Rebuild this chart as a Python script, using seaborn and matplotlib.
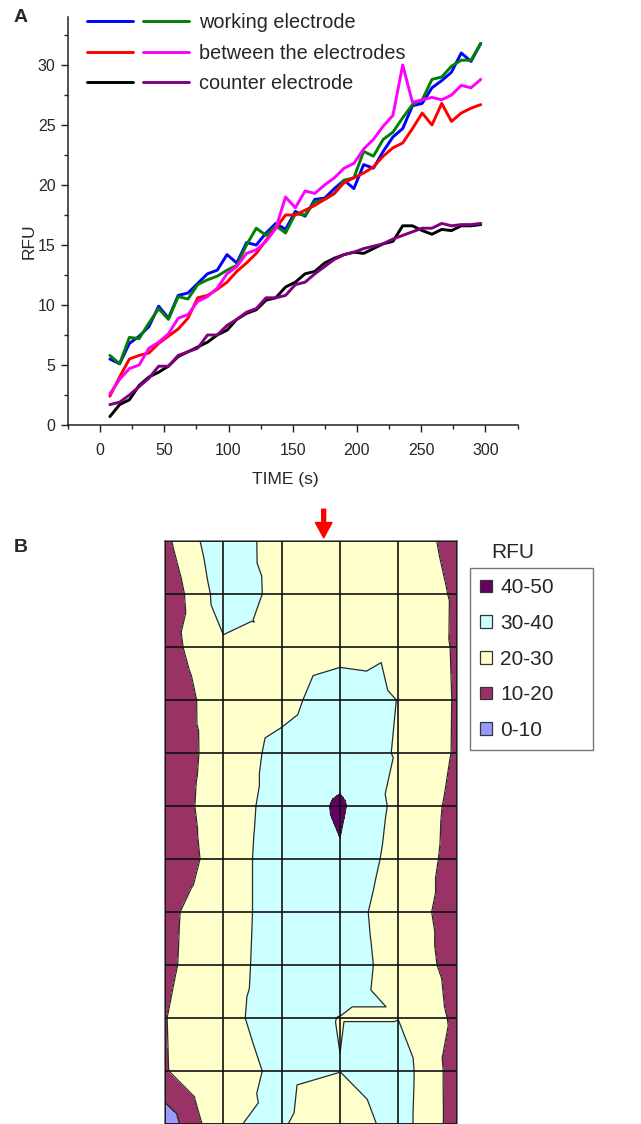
import numpy as np
import pandas as pd
import matplotlib
matplotlib.use("Agg")
import matplotlib.pyplot as plt
import matplotlib.tri as mtri
from matplotlib.legend_handler import HandlerTuple
from matplotlib.lines import Line2D
from matplotlib.patches import Patch
from matplotlib.ticker import MultipleLocator
import seaborn as sns

# ---------------- Panel A: fluorescence vs time ----------------
TIME_S = [7.6, 15.2, 22.8, 30.4, 38.0, 45.6, 53.2, 60.8, 68.4, 76.0,
          83.6, 91.2, 98.8, 106.4, 114.0, 121.6, 129.2, 136.8, 144.4, 152.0,
          159.6, 167.2, 174.8, 182.4, 190.0, 197.6, 205.2, 212.8, 220.4, 228.0,
          235.6, 243.2, 250.8, 258.4, 266.0, 273.6, 281.2, 288.8, 296.4]

WORKING_1 = [5.5, 5.1, 6.8, 7.4, 8.2, 9.9, 8.9, 10.8, 11.0, 11.8,
             12.6, 12.9, 14.2, 13.5, 15.2, 15.0, 16.0, 16.8, 16.3, 17.8,
             17.4, 18.8, 18.9, 19.7, 20.4, 19.7, 21.7, 21.4, 22.8, 24.0,
             24.7, 26.6, 26.8, 28.1, 28.7, 29.4, 31.0, 30.3, 31.8]
WORKING_2 = [5.8, 5.1, 7.3, 7.2, 8.5, 9.7, 8.8, 10.7, 10.5, 11.7,
             12.1, 12.4, 12.9, 13.3, 15.0, 16.4, 15.8, 16.6, 16.0, 17.6,
             17.5, 18.6, 18.8, 19.3, 20.4, 20.6, 22.8, 22.4, 23.8, 24.4,
             25.6, 26.7, 27.1, 28.8, 29.0, 29.9, 30.4, 30.4, 31.8]
BETWEEN_1 = [2.4, 4.0, 5.5, 5.8, 6.0, 6.8, 7.4, 8.0, 8.9, 10.6,
             10.8, 11.3, 11.9, 12.8, 13.5, 14.3, 15.4, 16.4, 17.5, 17.5,
             17.9, 18.3, 18.8, 19.3, 20.2, 20.6, 21.0, 21.5, 22.4, 23.1,
             23.5, 24.7, 26.0, 25.0, 26.8, 25.3, 26.0, 26.4, 26.7]
BETWEEN_2 = [2.6, 3.8, 4.7, 5.0, 6.4, 6.9, 7.6, 8.9, 9.2, 10.3,
             10.7, 11.4, 12.6, 13.2, 14.3, 14.6, 15.3, 16.4, 19.0, 18.1,
             19.5, 19.3, 20.0, 20.6, 21.4, 21.8, 23.0, 23.8, 24.9, 25.8,
             30.0, 26.9, 27.1, 27.3, 27.1, 27.5, 28.3, 28.1, 28.8]
COUNTER_1 = [0.7, 1.7, 2.1, 3.3, 4.0, 4.4, 4.9, 5.7, 6.1, 6.5,
             6.9, 7.5, 7.9, 8.8, 9.3, 9.6, 10.4, 10.6, 11.5, 11.9,
             12.6, 12.8, 13.5, 13.9, 14.2, 14.4, 14.3, 14.7, 15.1, 15.3,
             16.6, 16.6, 16.2, 15.9, 16.3, 16.2, 16.6, 16.6, 16.7]
COUNTER_2 = [1.7, 1.9, 2.5, 3.2, 3.9, 4.9, 4.9, 5.8, 6.1, 6.4,
             7.5, 7.5, 8.3, 8.8, 9.4, 9.7, 10.6, 10.6, 10.8, 11.7,
             11.9, 12.6, 13.2, 13.8, 14.2, 14.4, 14.7, 14.9, 15.1, 15.5,
             15.8, 16.1, 16.4, 16.4, 16.8, 16.6, 16.7, 16.7, 16.8]

SERIES = {"WE-1": WORKING_1, "WE-2": WORKING_2,
          "BE-1": BETWEEN_1, "BE-2": BETWEEN_2,
          "CE-1": COUNTER_1, "CE-2": COUNTER_2}
SERIES_COLORS = {"WE-1": "#0000FF", "WE-2": "#008000",
                 "BE-1": "#FF0000", "BE-2": "#FF00FF",
                 "CE-1": "#000000", "CE-2": "#800080"}
LEGEND_LABELS = ["working electrode", "between the electrodes", "counter electrode"]

# ---------------- Panel B: RFU map (grid nodes, top row first) ----------------
RFU_GRID = [
    [17.6, 38.2, 23.9, 25.0, 25.0, 17.4],
    [12.5, 35.0, 27.5, 25.5, 26.0, 18.9],
    [16.2, 28.5, 29.2, 26.5, 29.5, 18.8],
    [11.7, 27.0, 26.8, 35.6, 29.8, 19.1],
    [14.3, 24.1, 33.0, 35.0, 29.3, 19.0],
    [13.5, 26.2, 33.0, 41.5, 27.3, 17.6],
    [11.0, 26.0, 34.0, 39.0, 25.9, 17.3],
    [17.9, 26.0, 34.0, 36.0, 23.6, 17.3],
    [18.2, 26.5, 34.0, 36.0, 25.5, 17.2],
    [19.7, 28.2, 33.0, 29.8, 29.8, 18.1],
    [19.5, 27.0, 31.5, 30.1, 35.4, 15.4],
    [3.5, 29.5, 31.0, 22.0, 34.8, 15.6],
]
RFU_LEVELS = [0, 10, 20, 30, 40, 50]
RFU_BANDS = ["0-10", "10-20", "20-30", "30-40", "40-50"]
RFU_COLORS = ["#9999FF", "#993366", "#FFFFCC", "#CCFFFF", "#660066"]
ARROW_COLUMN = 2.72

sns.set_theme(style="ticks")
plt.rcParams["font.family"] = ["Liberation Sans", "DejaVu Sans"]
plt.rcParams["axes.edgecolor"] = "#222222"

W, H = 641, 1124
fig = plt.figure(figsize=(W / 100, H / 100), dpi=100)

# ---- Panel A ----
axA = fig.add_axes([68 / W, 1 - 425 / H, 449.5 / W, 408 / H])
long_df = pd.DataFrame([
    {"time": t, "RFU": v, "series": name}
    for name, vals in SERIES.items() for t, v in zip(TIME_S, vals)
])
sns.lineplot(data=long_df, x="time", y="RFU", hue="series",
             hue_order=list(SERIES.keys()), palette=SERIES_COLORS,
             linewidth=2.1, legend=False, ax=axA)
axA.set_xlim(-25, 325)
axA.set_ylim(0, 34)
axA.xaxis.set_major_locator(MultipleLocator(50))
axA.xaxis.set_minor_locator(MultipleLocator(25))
axA.yaxis.set_major_locator(MultipleLocator(5))
axA.yaxis.set_minor_locator(MultipleLocator(2.5))
axA.tick_params(axis="both", which="major", direction="out", length=5,
                width=1, labelsize=11.5, color="#222222", pad=4)
axA.tick_params(axis="x", which="major", pad=8)
axA.tick_params(axis="both", which="minor", direction="out", length=3,
                width=1, color="#222222")
sns.despine(ax=axA)
for sp in ("left", "bottom"):
    axA.spines[sp].set_linewidth(1.1)
axA.set_xlabel("TIME (s)", fontsize=12.5)
axA.set_ylabel("RFU", fontsize=12.5)
axA.xaxis.set_label_coords(0.483, -0.115)
axA.yaxis.set_label_coords(-0.069, 0.45)

line_handles = {k: Line2D([], [], color=c, lw=2.1) for k, c in SERIES_COLORS.items()}
pairs = [(line_handles["WE-1"], line_handles["WE-2"]),
         (line_handles["BE-1"], line_handles["BE-2"]),
         (line_handles["CE-1"], line_handles["CE-2"])]
fig.legend(pairs, LEGEND_LABELS, handler_map={tuple: HandlerTuple(ndivide=None, pad=0.5)},
           loc="upper left", bbox_to_anchor=(87 / W, 1 - 13 / H),
           frameon=False, fontsize=14.3, handlelength=5.13, handletextpad=0.5,
           labelspacing=0.58, borderpad=0, borderaxespad=0)
fig.text(21 / W, 1 - 18 / H, "A", fontsize=14, fontweight="bold",
         ha="center", va="center")

# ---- Panel B ----
axB = fig.add_axes([165 / W, 0, 291.7 / W, 583 / H])
Z = np.array(RFU_GRID)
nrow, ncol = Z.shape
gx, gy = np.meshgrid(np.arange(ncol), np.arange(nrow))
cx, cy = np.meshgrid(np.arange(ncol - 1) + 0.5, np.arange(nrow - 1) + 0.5)
cz = (Z[:-1, :-1] + Z[:-1, 1:] + Z[1:, :-1] + Z[1:, 1:]) / 4.0
px = np.concatenate([gx.ravel(), cx.ravel()]).astype(float)
py = np.concatenate([gy.ravel(), cy.ravel()]).astype(float)
pz = np.concatenate([Z.ravel(), cz.ravel()])
tris = []
for r in range(nrow - 1):
    for c in range(ncol - 1):
        tl = r * ncol + c
        tr, bl = tl + 1, tl + ncol
        br = bl + 1
        ctr = nrow * ncol + r * (ncol - 1) + c
        tris += [(tl, tr, ctr), (tr, br, ctr), (br, bl, ctr), (bl, tl, ctr)]
tri = mtri.Triangulation(px, py, np.array(tris))
axB.tricontourf(tri, pz, levels=RFU_LEVELS, colors=RFU_COLORS)
axB.tricontour(tri, pz, levels=RFU_LEVELS[1:-1], colors="#2a2a2a", linewidths=0.9)
axB.set_xlim(0, ncol - 1)
axB.set_ylim(nrow - 1, 0)
axB.set_xticks(range(ncol))
axB.set_yticks(range(nrow))
axB.tick_params(length=0, labelbottom=False, labelleft=False)
axB.grid(True, color="#111111", linewidth=1.2)
axB.set_axisbelow(False)
for sp in axB.spines.values():
    sp.set_color("#666666")
    sp.set_linewidth(1.2)
    sp.set_visible(True)

axB.annotate("", xy=(ARROW_COLUMN, -0.06), xytext=(ARROW_COLUMN, -0.6),
             xycoords="data", annotation_clip=False,
             arrowprops=dict(facecolor="#FF0000", edgecolor="#FF0000",
                             width=2.8, headwidth=12, headlength=11, shrink=0))

fig.text(21 / W, 1 - 548 / H, "B", fontsize=14, fontweight="bold",
         ha="center", va="center")
fig.text(513 / W, 1 - 553 / H, "RFU", fontsize=15, ha="center", va="center")
band_handles = [Patch(facecolor=col, edgecolor="#333333", linewidth=0.9, label=lab)
                for lab, col in zip(RFU_BANDS[::-1], RFU_COLORS[::-1])]
legB = fig.legend(handles=band_handles, loc="upper left",
                  bbox_to_anchor=(470 / W, 1 - 568 / H, 123 / W, 0.0001),
                  mode="expand", frameon=True, fancybox=False, fontsize=15,
                  handlelength=0.55, handleheight=0.55, handletextpad=0.4,
                  labelspacing=0.8, borderpad=0.5, borderaxespad=0)
legB.get_frame().set_edgecolor("#555555")
legB.get_frame().set_linewidth(1.0)

fig.savefig("out.png", dpi=100)
